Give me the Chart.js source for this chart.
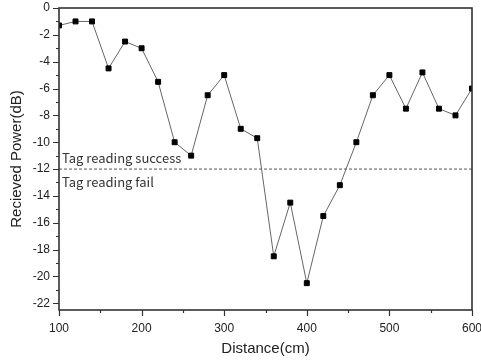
<!DOCTYPE html>
<html>
<head>
<meta charset="utf-8">
<script src="https://cdn.jsdelivr.net/npm/chart.js@4/dist/chart.umd.min.js"></script>
<style>
  body { margin: 0; background: #fff; }
  canvas { display: block; }
</style>
</head>
<body>
<canvas id="powerChart" width="481" height="364"></canvas>
<script>
// Datos
const distances = [100, 120, 140, 160, 180, 200, 220, 240, 260, 280, 300, 320, 340,
                   360, 380, 400, 420, 440, 460, 480, 500, 520, 540, 560, 580, 600];
const power = [-1.3, -1.0, -1.0, -4.5, -2.5, -3.0, -5.5, -10.0, -11.0, -6.5, -5.0, -9.0, -9.7,
               -18.5, -14.5, -20.5, -15.5, -13.2, -10.0, -6.5, -5.0, -7.5, -4.8, -7.5, -8.0, -6.0];
const threshold = -12;
const xTicks = [100, 200, 300, 400, 500, 600];
const yTicks = [-22, -20, -18, -16, -14, -12, -10, -8, -6, -4, -2, 0];
const labelSuccess = 'Tag reading success';
const labelFail = 'Tag reading fail';

const FONT = "'Liberation Sans', Arial, sans-serif";

// Marco, marcas de eje y textos del umbral
const framePlugin = {
    id: 'frame',
    afterDraw(chart) {
        const ctx = chart.ctx;
        const { left, right, top, bottom } = chart.chartArea;
        const x = chart.scales.x, y = chart.scales.y;
        ctx.save();
        ctx.strokeStyle = '#333';
        ctx.lineWidth = 1.6;
        ctx.strokeRect(left, top, right - left, bottom - top);
        ctx.lineWidth = 1.2;
        ctx.beginPath();
        for (let v = 100; v <= 600; v += 50) {
            const px = Math.round(x.getPixelForValue(v)) + 0.5;
            const len = v % 100 === 0 ? 6 : 3;
            ctx.moveTo(px, bottom);
            ctx.lineTo(px, bottom + len);
        }
        for (let v = -22; v <= 0; v += 1) {
            const py = Math.round(y.getPixelForValue(v)) + 0.5;
            const len = v % 2 === 0 ? 6 : 3;
            ctx.moveTo(left, py);
            ctx.lineTo(left - len, py);
        }
        ctx.stroke();
        // textos
        ctx.fillStyle = '#333';
        ctx.font = "13px 'Noto Sans CJK KR'";
        ctx.textAlign = 'left';
        ctx.textBaseline = 'middle';
        const ty = y.getPixelForValue(threshold);
        const tx = x.getPixelForValue(distances[0]) + 3;
        ctx.fillText(labelSuccess, tx, ty - 11);
        ctx.fillText(labelFail, tx, ty + 13);
        ctx.restore();
    }
};

const ctx = document.getElementById('powerChart').getContext('2d');
const powerChart = new Chart(ctx, {
    type: 'line',
    data: {
        datasets: [{
            label: 'Power',
            data: distances.map((d, i) => ({ x: d, y: power[i] })),
            borderColor: '#666',
            borderWidth: 1,
            pointStyle: 'rect',
            pointRadius: 3.5,
            pointBorderWidth: 1,
            pointBackgroundColor: '#000',
            pointBorderColor: '#000',
            tension: 0
        }, {
            label: 'Threshold',
            data: [{ x: distances[0], y: threshold }, { x: distances[distances.length - 1], y: threshold }],
            borderColor: '#555',
            borderWidth: 1,
            borderDash: [3, 2],
            pointRadius: 0
        }]
    },
    options: {
        responsive: false,
        animation: false,
        layout: { padding: { top: 8, right: 9, left: 0, bottom: 0 } },
        plugins: { legend: { display: false }, tooltip: { enabled: false } },
        scales: {
            x: {
                type: 'linear',
                min: 100,
                max: 600,
                afterBuildTicks: s => { s.ticks = xTicks.map(v => ({ value: v })); },
                afterFit: s => { s.height = 54; s.paddingLeft = 0; s.paddingRight = 0; },
                grid: { display: false, drawTicks: false },
                border: { display: false },
                ticks: { padding: 11, color: '#222', font: { family: FONT, size: 12 } },
                title: { display: true, text: 'Distance(cm)', color: '#222', padding: 6,
                         font: { family: FONT, size: 15 } }
            },
            y: {
                min: -22.5,
                max: 0,
                afterBuildTicks: s => { s.ticks = yTicks.map(v => ({ value: v })); },
                afterFit: s => { s.width = 59; s.paddingTop = 0; s.paddingBottom = 0; },
                grid: { display: false, drawTicks: false },
                border: { display: false },
                ticks: { padding: 9, color: '#222', font: { family: FONT, size: 12 } },
                title: { display: true, text: 'Recieved Power(dB)', color: '#222', padding: 8,
                         font: { family: FONT, size: 15 } }
            }
        }
    },
    plugins: [framePlugin]
});
</script>
</body>
</html>
